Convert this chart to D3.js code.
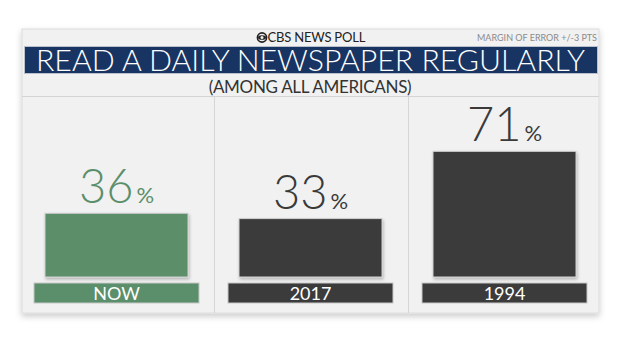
<!DOCTYPE html>
<html>
<head>
<meta charset="utf-8">
<script src="https://cdn.jsdelivr.net/npm/d3@7"></script>
<style>
  html, body { margin: 0; padding: 0; background: #fff; }
  svg { display: block; }
  text { font-family: Lato, "Open Sans", sans-serif; }
</style>
</head>
<body>
<svg id="chart" width="620" height="349"></svg>
<script>
// Poll results: share who read a daily newspaper regularly
const categories = ["NOW", "2017", "1994"];
const values = [36, 33, 71];
const barColors = ["#5b8e6a", "#3b3b3b", "#3b3b3b"];
const valueColors = ["#5b8e6a", "#3a3a3a", "#3a3a3a"];

const title = "READ A DAILY NEWSPAPER REGULARLY";
const subtitle = "(AMONG ALL AMERICANS)";
const brand = "CBS NEWS POLL";
const margin = "MARGIN OF ERROR +/-3 PTS";

const svg = d3.select("#chart");
const defs = svg.append("defs");

const shadow = defs.append("filter").attr("id", "shadow")
  .attr("x", "-10%").attr("y", "-10%").attr("width", "130%").attr("height", "140%");
shadow.append("feDropShadow").attr("dx", 1).attr("dy", 2).attr("stdDeviation", 1.5)
  .attr("flood-color", "#000").attr("flood-opacity", 0.25);

const panelShadow = defs.append("filter").attr("id", "panelShadow")
  .attr("x", "-5%").attr("y", "-5%").attr("width", "110%").attr("height", "115%");
panelShadow.append("feDropShadow").attr("dx", 0).attr("dy", 3).attr("stdDeviation", 3)
  .attr("flood-color", "#000").attr("flood-opacity", 0.2);

// Panel
const panel = { x0: 22, x1: 599, y0: 29, y1: 313 };
svg.append("rect")
  .attr("x", panel.x0).attr("y", panel.y0)
  .attr("width", panel.x1 - panel.x0).attr("height", panel.y1 - panel.y0)
  .attr("fill", "#f1f1f1").attr("stroke", "#dcdcdc").attr("stroke-width", 1)
  .attr("filter", "url(#panelShadow)");

// Header: brand line
const brandG = svg.append("g").attr("transform", "translate(262,37.5)");
brandG.append("circle").attr("r", 4.6).attr("fill", "none").attr("stroke", "#222").attr("stroke-width", 1.6);
brandG.append("ellipse").attr("rx", 4).attr("ry", 2.3).attr("fill", "#222");
brandG.append("circle").attr("r", 1.5).attr("fill", "#f1f1f1");
svg.append("text").attr("x", 267.5).attr("y", 42)
  .attr("font-size", 13).attr("fill", "#222").attr("letter-spacing", -0.2)
  .text(brand);

svg.append("text").attr("x", 597).attr("y", 41)
  .attr("text-anchor", "end").attr("font-size", 9).attr("fill", "#8a8a8a")
  .text(margin);

// Title banner
svg.append("rect").attr("x", 24.5).attr("y", 46.5).attr("width", 573).attr("height", 27)
  .attr("fill", "#183462").attr("stroke", "#b9c0cc").attr("stroke-width", 1);
svg.append("text").attr("x", 36).attr("y", 71)
  .attr("font-size", 29.5).attr("font-weight", 300).attr("fill", "#fff")
  .attr("textLength", 549).attr("lengthAdjust", "spacingAndGlyphs")
  .text(title);

svg.append("text").attr("x", 310).attr("y", 93)
  .attr("text-anchor", "middle").attr("font-size", 17).attr("fill", "#333")
  .attr("letter-spacing", -0.3)
  .text(subtitle);

svg.append("line").attr("x1", panel.x0).attr("x2", panel.x1).attr("y1", 96.5).attr("y2", 96.5)
  .attr("stroke", "#d4d4d4").attr("stroke-width", 1.2);

// Column layout
const x = d3.scaleBand().domain(categories).range([19.5, 601.5]).paddingInner(0).paddingOuter(0);
const y = d3.scaleLinear().domain([0, 100]).range([277, 100]);

// Column dividers
categories.slice(1).forEach(c => {
  svg.append("line").attr("x1", Math.round(x(c)) + 0.5).attr("x2", Math.round(x(c)) + 0.5)
    .attr("y1", 97).attr("y2", panel.y1)
    .attr("stroke", "#d6d6d6").attr("stroke-width", 1);
});

const barW = 143, labelW = 165;

const cols = svg.selectAll("g.col").data(categories).enter().append("g")
  .attr("class", "col")
  .attr("transform", c => `translate(${x(c) + x.bandwidth() / 2},0)`);

cols.append("rect")
  .attr("x", -barW / 2).attr("width", barW)
  .attr("y", (c, i) => y(values[i]))
  .attr("height", (c, i) => y(0) - y(values[i]))
  .attr("fill", (c, i) => barColors[i])
  .attr("stroke", "#d0d0d0").attr("stroke-width", 1)
  .attr("filter", "url(#shadow)");

cols.append("rect")
  .attr("x", -labelW / 2).attr("width", labelW)
  .attr("y", 283).attr("height", 20)
  .attr("fill", (c, i) => barColors[i])
  .attr("stroke", "#c8c8c8").attr("stroke-width", 1);

cols.append("text")
  .attr("y", 300).attr("text-anchor", "middle")
  .attr("font-size", 18).attr("font-weight", 400).attr("fill", "#fff")
  .text(c => c);

// Value labels: large number with small percent sign
const vt = cols.append("text")
  .attr("y", (c, i) => y(values[i]) - 10)
  .attr("text-anchor", "middle")
  .attr("fill", (c, i) => valueColors[i]);
vt.append("tspan").attr("font-size", 47).attr("font-weight", 300)
  .text((c, i) => values[i]);
vt.append("tspan").attr("font-size", 22).attr("dx", 3)
  .text("%");
</script>
</body>
</html>
